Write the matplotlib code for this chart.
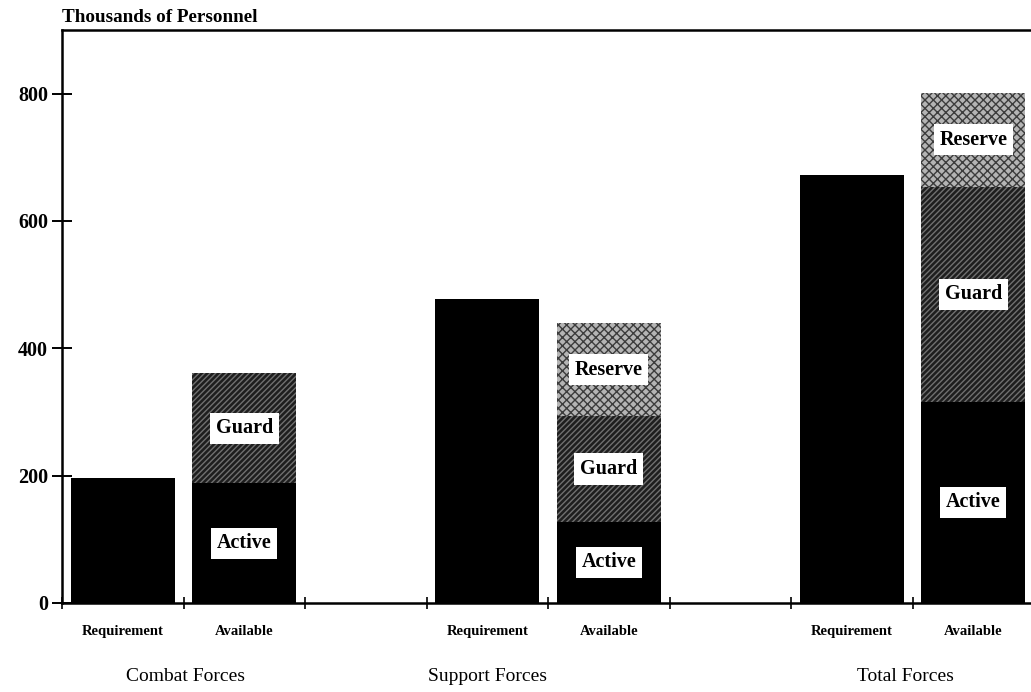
import numpy as np
import matplotlib
matplotlib.use('Agg')
import matplotlib.pyplot as plt


# Data (thousands of personnel)
groups = ['Combat Forces', 'Support Forces', 'Total Forces']
bar_labels = ['Requirement', 'Available']
requirement = [196, 478, 673]
active = [188, 128, 316]
guard = [173, 165, 338]
reserve = [0, 147, 147]
y_ticks = [0, 200, 400, 600, 800]

# Group label positions on the slot axis (as placed in the original)
group_label_x = [0.52, 3.0, 6.44]

SERIF = ['Liberation Serif', 'DejaVu Serif']

if __name__ == '__main__':

    fig = plt.figure(figsize=(10.31, 6.92), dpi=100)
    ax = fig.add_axes([62 / 1031, 89 / 692, 972 / 1031, 573 / 692])

    # Slots: req, avail, gap, req, avail, gap, req, avail
    req_x = np.array([0, 3, 6])
    avail_x = req_x + 1
    width = 0.86

    active = np.array(active)
    guard = np.array(guard)
    reserve = np.array(reserve)

    ax.bar(req_x, requirement, width, color='black', linewidth=0)
    ax.bar(avail_x, active, width, color='black', linewidth=0)
    ax.bar(avail_x, guard, width, bottom=active, facecolor='#1e1e1e',
           edgecolor='#707070', hatch='//////', linewidth=0)
    ax.bar(avail_x, reserve, width, bottom=active + guard,
           facecolor='#b4b4b4', edgecolor='#3c3c3c', hatch='xxxx',
           linewidth=0)

    # Segment labels in white boxes
    box = dict(facecolor='white', edgecolor='none', pad=4)
    for i, x in enumerate(avail_x):
        segments = [('Active', 0, active[i]),
                    ('Guard', active[i], guard[i]),
                    ('Reserve', active[i] + guard[i], reserve[i])]
        for name, base, height in segments:
            if height <= 0:
                continue
            ax.text(x, base + height / 2, name, ha='center', va='center',
                    fontsize=14.5, fontweight='bold', family=SERIF,
                    bbox=box, zorder=5)

    # Axes styling
    ax.set_xlim(-0.5, 7.5)
    ax.set_ylim(0, 900)
    ax.set_yticks(y_ticks)
    ax.set_yticklabels([str(t) for t in y_ticks], fontsize=14.5,
                       fontweight='bold', family=SERIF)
    ax.tick_params(axis='y', direction='inout', length=14, width=1.4, pad=3)
    ax.set_xticks(np.arange(-0.5, 8.0, 1.0))
    ax.set_xticklabels([])
    ax.tick_params(axis='x', direction='inout', length=9, width=1.2)
    for spine in ax.spines.values():
        spine.set_linewidth(1.8)

    # Bar labels under each bar
    for x in np.concatenate([req_x, avail_x]):
        name = bar_labels[0] if x in req_x else bar_labels[1]
        ax.text(x, -45, name, ha='center', va='center', fontsize=10.5,
                fontweight='bold', family=SERIF, clip_on=False)

    # Group labels
    for x, name in zip(group_label_x, groups):
        ax.text(x, -115, name, ha='center', va='center', fontsize=14,
                family=SERIF, clip_on=False)

    fig.text(62 / 1031, 1 - 18 / 692, 'Thousands of Personnel', ha='left',
             va='center', fontsize=13.8, fontweight='bold', family=SERIF)

    plt.savefig('out.png', dpi=100)
    plt.close('all')
